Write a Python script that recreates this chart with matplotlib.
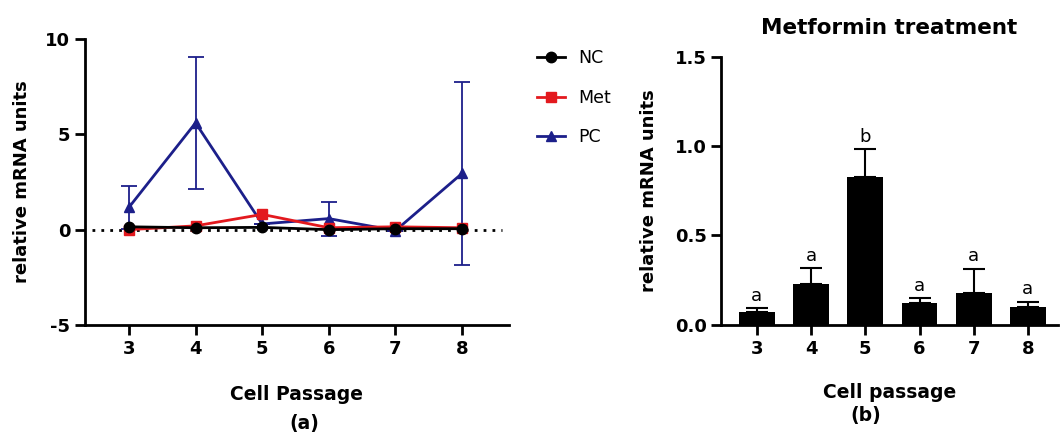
import matplotlib.pyplot as plt
from matplotlib.lines import Line2D
import numpy as np

plt.rcParams['font.family'] = ['DejaVu Sans']
plt.rcParams['axes.unicode_minus'] = False

# panel (a): time course
passages = [3, 4, 5, 6, 7, 8]
nc_vals = [0.15, 0.10, 0.12, 0.00, 0.05, 0.05]
met_vals = [0.00, 0.20, 0.80, 0.10, 0.15, 0.10]
pc_vals = [1.17, 5.60, 0.30, 0.58, -0.05, 2.95]
pc_err = [1.13, 3.48, 0.0, 0.89, 0.0, 4.80]

# panel (b): metformin bars
bar_vals = [0.071, 0.227, 0.829, 0.121, 0.180, 0.099]
bar_err = [0.022, 0.090, 0.153, 0.028, 0.135, 0.031]
bar_letters = ['a', 'a', 'b', 'a', 'a', 'a']

fig = plt.figure(figsize=(10.62, 4.38), dpi=100)
ax1 = fig.add_axes([0.080, 0.258, 0.399, 0.653])
ax2 = fig.add_axes([0.679, 0.258, 0.317, 0.613])

navy = '#1c1f8a'
red = '#e3191e'

ax1.axhline(0, color='black', linestyle=(0, (1, 2.2)), linewidth=2, xmin=0.017, xmax=0.985, zorder=1)
ax1.errorbar(passages, pc_vals, yerr=pc_err, color=navy, marker='^', markersize=7.5,
             linewidth=2, elinewidth=1.3, capsize=6, capthick=1.3, zorder=2)
ax1.plot(passages, met_vals, color=red, marker='s', markersize=7.5, linewidth=2, zorder=3)
ax1.plot(passages, nc_vals, color='black', marker='o', markersize=7.5, linewidth=2, zorder=4)

ax1.set_xlim(2.34, 8.7)
ax1.set_ylim(-5, 10)
ax1.set_xticks(passages)
ax1.set_yticks([-5, 0, 5, 10])
ax1.set_xlabel('Cell Passage', fontsize=13.5, fontweight='bold', labelpad=20)
ax1.set_ylabel('relative mRNA units', fontsize=13, fontweight='bold', labelpad=10)

# legend entries without the error caps
handles = [Line2D([], [], color='black', marker='o', markersize=7.5, linewidth=2),
           Line2D([], [], color=red, marker='s', markersize=7.5, linewidth=2),
           Line2D([], [], color=navy, marker='^', markersize=7.5, linewidth=2)]
ax1.legend(handles, ['NC', 'Met', 'PC'], loc='upper left',
           bbox_to_anchor=(1.03, 1.02), frameon=False, fontsize=12.5,
           handlelength=1.6, labelspacing=1.25)

ax2.bar(passages, bar_vals, width=0.66, color='black', zorder=2)
ax2.errorbar(passages, bar_vals, yerr=[np.zeros(len(bar_err)), bar_err], fmt='none',
             ecolor='black', elinewidth=1.5, capsize=8, capthick=1.5, zorder=1)
for x, v, e, t in zip(passages, bar_vals, bar_err, bar_letters):
    ax2.text(x, v + e + 0.02, t, ha='center', va='bottom', fontsize=13)

ax2.set_xlim(2.34, 8.55)
ax2.set_ylim(0, 1.5)
ax2.set_xticks(passages)
ax2.set_yticks([0.0, 0.5, 1.0, 1.5])
ax2.set_yticklabels(['0.0', '0.5', '1.0', '1.5'])
ax2.set_title('Metformin treatment', fontsize=15.5, fontweight='bold', pad=16)
ax2.set_xlabel('Cell passage', fontsize=13.5, fontweight='bold', labelpad=18)
ax2.set_ylabel('relative mRNA units', fontsize=13, fontweight='bold', labelpad=12)

for ax in (ax1, ax2):
    for s in ('top', 'right'):
        ax.spines[s].set_visible(False)
    for s in ('left', 'bottom'):
        ax.spines[s].set_linewidth(2)
    ax.tick_params(width=2, length=7, labelsize=13, direction='out')
    for lab in ax.get_xticklabels() + ax.get_yticklabels():
        lab.set_fontweight('bold')

fig.text(0.287, 1 - 423 / 438, '(a)', ha='center', va='center', fontsize=13.5, fontweight='bold')
fig.text(0.815, 1 - 416 / 438, '(b)', ha='center', va='center', fontsize=13.5, fontweight='bold')

fig.savefig('out.png', dpi=100)
